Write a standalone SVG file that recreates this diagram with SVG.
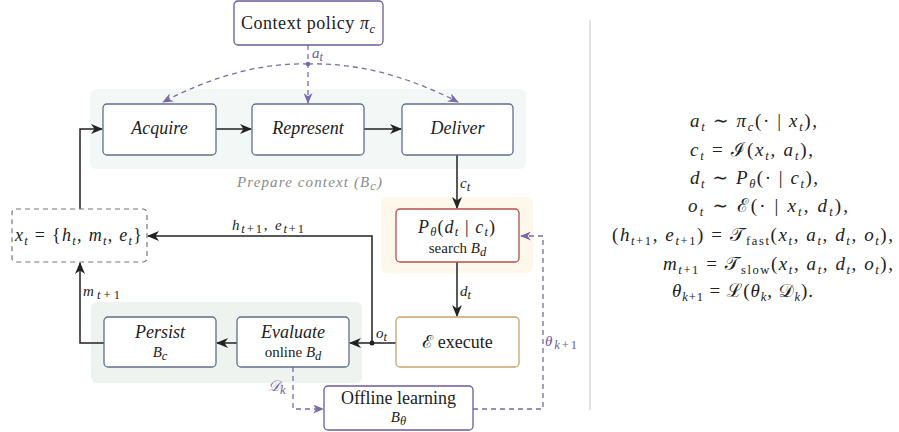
<svg xmlns="http://www.w3.org/2000/svg" width="899" height="432" viewBox="0 0 899 432">
<style>
text{font-family:'Times New Roman','Liberation Serif',Tinos,'Noto Serif','DejaVu Serif',FreeSerif,serif;fill:#222;}
.eq{font-size:19px;}
.lb{font-size:18px;}
.sm{font-size:15px;}
.i{font-style:italic;}
.s{font-size:12.5px;}
.pu{fill:#6b5b9e;}
.gr{fill:#8a8a8a;}
.box{fill:#fff;stroke:#5d6f8e;stroke-width:1.3;}
.pbox{fill:#fff;stroke:#6b5b9e;stroke-width:1.3;}
.c{fill:none;stroke:#222;stroke-width:1.5;}
.d{fill:none;stroke:#7a6aaa;stroke-width:1.3;stroke-dasharray:5 4;}
</style>
<defs>
<marker id="ah" markerUnits="userSpaceOnUse" markerWidth="12" markerHeight="10" viewBox="0 0 12 10" refX="11" refY="5" orient="auto"><path d="M0,0 L12,5 L0,10 L3.5,5 z" fill="#222"/></marker>
<marker id="ap" markerUnits="userSpaceOnUse" markerWidth="11" markerHeight="9" viewBox="0 0 12 10" refX="11" refY="5" orient="auto"><path d="M0,0 L12,5 L0,10 L3.5,5 z" fill="#7a6aaa"/></marker>
</defs>

<rect x="90" y="89" width="436" height="80" rx="6" fill="#f3f7f5"/>
<rect x="91" y="302" width="271" height="81" rx="6" fill="#eef3f0"/>
<rect x="381" y="197" width="152" height="76" rx="6" fill="#fdf7ec"/>
<line x1="590" y1="20" x2="590" y2="410" stroke="#c8c8c8" stroke-width="1"/>

<g id="connectors">
<path class="c" d="M216,129 L251,129" marker-end="url(#ah)"/>
<path class="c" d="M364,129 L401,129" marker-end="url(#ah)"/>
<path class="c" d="M80,209 L80,129 L102,129" marker-end="url(#ah)"/>
<path class="c" d="M457,155 L457,208" marker-end="url(#ah)"/>
<path class="c" d="M457,262 L457,316" marker-end="url(#ah)"/>
<path class="c" d="M396,343 L350,343" marker-end="url(#ah)"/>
<path class="c" d="M372,343 L372,236 L148,236" marker-end="url(#ah)"/>
<circle cx="372" cy="343" r="2.5" fill="#222"/>
<path class="c" d="M237,343 L217,343" marker-end="url(#ah)"/>
<path class="c" d="M104,343 L80,343 L80,263" marker-end="url(#ah)"/>
<path class="d" d="M308,45 L308,103" marker-end="url(#ap)"/>
<circle cx="308" cy="64" r="2.3" fill="#7a6aaa"/>
<path class="d" d="M308,64 Q240,62 163,102" marker-end="url(#ap)"/>
<path class="d" d="M308,64 Q380,62 458,102" marker-end="url(#ap)"/>
<path class="d" d="M293,367 L293,409 L323,409" marker-end="url(#ap)"/>
<path class="d" d="M473,409 L543,409 L543,236 L521,236" marker-end="url(#ap)"/>
<text x="312" y="58" class="sm i pu">a<tspan class="s" dy="3">t</tspan></text>
<text x="460" y="188" class="sm i">c<tspan class="s" dy="3">t</tspan></text>
<text x="460" y="296" class="sm i">d<tspan class="s" dy="3">t</tspan></text>
<text x="376" y="338" class="sm i">o<tspan class="s" dy="3">t</tspan></text>
<text x="232" y="230" class="sm" textLength="72" lengthAdjust="spacing"><tspan class="i">h</tspan><tspan class="s" dy="3"><tspan class="i">t</tspan>+1</tspan><tspan dy="-3">, </tspan><tspan class="i">e</tspan><tspan class="s" dy="3"><tspan class="i">t</tspan>+1</tspan></text>
<text x="83" y="296" class="sm" textLength="37" lengthAdjust="spacing"><tspan class="i">m</tspan><tspan class="s" dy="3"><tspan class="i">t</tspan>+1</tspan></text>
<text x="268" y="391" class="sm pu"><tspan class="i">𝒟</tspan><tspan class="s i" dy="3">k</tspan></text>
<text x="545" y="346" class="sm pu" textLength="32" lengthAdjust="spacing"><tspan class="i">θ</tspan><tspan class="s" dy="3"><tspan class="i">k</tspan>+1</tspan></text>
<text x="237" y="187" class="sm i gr" textLength="145" lengthAdjust="spacing">Prepare context (B<tspan class="s" dy="3">c</tspan><tspan dy="-3">)</tspan></text>
</g>

<g id="context-policy">
<rect x="234" y="1" width="149" height="44" rx="4" class="pbox"/>
<text x="241" y="29" class="lb" textLength="134" lengthAdjust="spacing">Context policy <tspan class="i">π</tspan><tspan class="s i" dy="4">c</tspan></text>
</g>
<g id="acquire">
<rect x="103" y="104" width="113" height="51" rx="4" class="box"/>
<text x="159.5" y="134" text-anchor="middle" class="lb i">Acquire</text>
</g>
<g id="represent">
<rect x="252" y="104" width="112" height="51" rx="4" class="box"/>
<text x="308" y="134" text-anchor="middle" class="lb i">Represent</text>
</g>
<g id="deliver">
<rect x="402" y="104" width="111" height="51" rx="4" class="box"/>
<text x="457.5" y="134" text-anchor="middle" class="lb i">Deliver</text>
</g>
<g id="state">
<rect x="12" y="209" width="135" height="53" rx="4" fill="#fff" stroke="#777" stroke-width="1.2" stroke-dasharray="5 4"/>
<text x="15" y="241" class="lb" textLength="127" lengthAdjust="spacing"><tspan class="i">x</tspan><tspan class="s i" dy="4">t</tspan><tspan dy="-4"> = {</tspan><tspan class="i">h</tspan><tspan class="s i" dy="4">t</tspan><tspan dy="-4">, </tspan><tspan class="i">m</tspan><tspan class="s i" dy="4">t</tspan><tspan dy="-4">, </tspan><tspan class="i">e</tspan><tspan class="s i" dy="4">t</tspan><tspan dy="-4">}</tspan></text>
</g>
<g id="policy">
<rect x="396" y="209" width="123" height="53" rx="4" fill="#fff" stroke="#b5504c" stroke-width="1.3"/>
<text x="418" y="233" class="lb" textLength="77" lengthAdjust="spacing"><tspan class="i">P</tspan><tspan class="s i" dy="3">θ</tspan><tspan dy="-3">(</tspan><tspan class="i">d</tspan><tspan class="s i" dy="3">t</tspan><tspan dy="-3"> | </tspan><tspan class="i">c</tspan><tspan class="s i" dy="3">t</tspan><tspan dy="-3">)</tspan></text>
<text x="457.5" y="253" text-anchor="middle" class="sm">search <tspan class="i">B</tspan><tspan class="s i" dy="3">d</tspan></text>
</g>
<g id="execute">
<rect x="396" y="317" width="123" height="50" rx="4" fill="#fff" stroke="#c9a36b" stroke-width="1.3"/>
<text x="457.5" y="348" text-anchor="middle" class="lb">ℰ execute</text>
</g>
<g id="persist">
<rect x="104" y="317" width="112" height="50" rx="4" class="box"/>
<text x="160" y="338" text-anchor="middle" class="lb i">Persist</text>
<text x="160" y="357" text-anchor="middle" class="sm"><tspan class="i">B</tspan><tspan class="s i" dy="3">c</tspan></text>
</g>
<g id="evaluate">
<rect x="237" y="317" width="112" height="50" rx="4" class="box"/>
<text x="293" y="338" text-anchor="middle" class="lb i">Evaluate</text>
<text x="293" y="357" text-anchor="middle" class="sm">online <tspan class="i">B</tspan><tspan class="s i" dy="3">d</tspan></text>
</g>
<g id="offline">
<rect x="324" y="386" width="149" height="44" rx="4" class="pbox"/>
<text x="398.5" y="404" text-anchor="middle" class="lb">Offline learning</text>
<text x="398.5" y="422" text-anchor="middle" class="sm"><tspan class="i">B</tspan><tspan class="s i" dy="3">θ</tspan></text>
</g>

<g id="equations">
<text x="690" y="127" class="eq" textLength="127" lengthAdjust="spacing"><tspan class="i">a</tspan><tspan class="s i" dy="4">t</tspan><tspan dy="-4"> ∼ </tspan><tspan class="i">π</tspan><tspan class="s i" dy="4">c</tspan><tspan dy="-4">(· | </tspan><tspan class="i">x</tspan><tspan class="s i" dy="4">t</tspan><tspan dy="-4">),</tspan></text>
<text x="690" y="156" class="eq" textLength="123" lengthAdjust="spacing"><tspan class="i">c</tspan><tspan class="s i" dy="4">t</tspan><tspan dy="-4"> = ℐ(</tspan><tspan class="i">x</tspan><tspan class="s i" dy="4">t</tspan><tspan dy="-4">, </tspan><tspan class="i">a</tspan><tspan class="s i" dy="4">t</tspan><tspan dy="-4">),</tspan></text>
<text x="690" y="184" class="eq" textLength="128" lengthAdjust="spacing"><tspan class="i">d</tspan><tspan class="s i" dy="4">t</tspan><tspan dy="-4"> ∼ </tspan><tspan class="i">P</tspan><tspan class="s i" dy="4">θ</tspan><tspan dy="-4">(· | </tspan><tspan class="i">c</tspan><tspan class="s i" dy="4">t</tspan><tspan dy="-4">),</tspan></text>
<text x="688" y="212" class="eq" textLength="160" lengthAdjust="spacing"><tspan class="i">o</tspan><tspan class="s i" dy="4">t</tspan><tspan dy="-4"> ∼ ℰ(· | </tspan><tspan class="i">x</tspan><tspan class="s i" dy="4">t</tspan><tspan dy="-4">, </tspan><tspan class="i">d</tspan><tspan class="s i" dy="4">t</tspan><tspan dy="-4">),</tspan></text>
<text x="612" y="241" class="eq" textLength="281" lengthAdjust="spacing">(<tspan class="i">h</tspan><tspan class="s" dy="4"><tspan class="i">t</tspan>+1</tspan><tspan dy="-4">, </tspan><tspan class="i">e</tspan><tspan class="s" dy="4"><tspan class="i">t</tspan>+1</tspan><tspan dy="-4">) = 𝒯</tspan><tspan class="s" dy="4">fast</tspan><tspan dy="-4">(</tspan><tspan class="i">x</tspan><tspan class="s i" dy="4">t</tspan><tspan dy="-4">, </tspan><tspan class="i">a</tspan><tspan class="s i" dy="4">t</tspan><tspan dy="-4">, </tspan><tspan class="i">d</tspan><tspan class="s i" dy="4">t</tspan><tspan dy="-4">, </tspan><tspan class="i">o</tspan><tspan class="s i" dy="4">t</tspan><tspan dy="-4">),</tspan></text>
<text x="663" y="270" class="eq" textLength="230" lengthAdjust="spacing"><tspan class="i">m</tspan><tspan class="s" dy="4"><tspan class="i">t</tspan>+1</tspan><tspan dy="-4"> = 𝒯</tspan><tspan class="s" dy="4">slow</tspan><tspan dy="-4">(</tspan><tspan class="i">x</tspan><tspan class="s i" dy="4">t</tspan><tspan dy="-4">, </tspan><tspan class="i">a</tspan><tspan class="s i" dy="4">t</tspan><tspan dy="-4">, </tspan><tspan class="i">d</tspan><tspan class="s i" dy="4">t</tspan><tspan dy="-4">, </tspan><tspan class="i">o</tspan><tspan class="s i" dy="4">t</tspan><tspan dy="-4">),</tspan></text>
<text x="672" y="297" class="eq" textLength="141" lengthAdjust="spacing"><tspan class="i">θ</tspan><tspan class="s" dy="4"><tspan class="i">k</tspan>+1</tspan><tspan dy="-4"> = ℒ(</tspan><tspan class="i">θ</tspan><tspan class="s i" dy="4">k</tspan><tspan dy="-4">, 𝒟</tspan><tspan class="s i" dy="4">k</tspan><tspan dy="-4">).</tspan></text>
</g>
</svg>
